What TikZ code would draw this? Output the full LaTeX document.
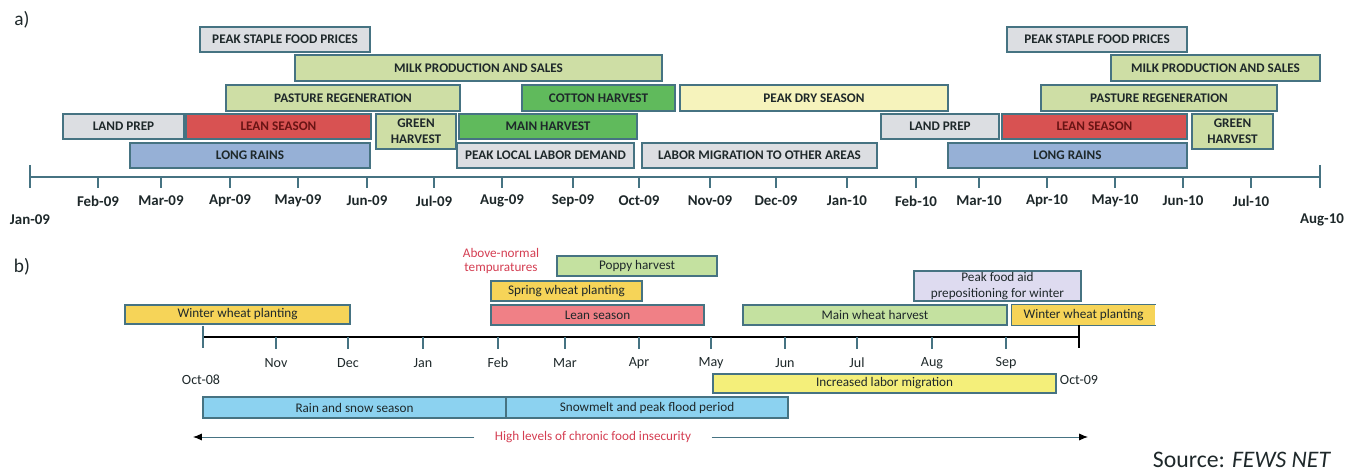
\documentclass[tikz,border=0pt]{standalone}
\usepackage{fontspec}
\setmainfont{Carlito}
\usetikzlibrary{arrows.meta}

\definecolor{rim}{RGB}{70,115,130}
\definecolor{ink}{RGB}{30,40,42}
\definecolor{greyfill}{RGB}{220,222,226}
\definecolor{sagefill}{RGB}{206,222,165}
\definecolor{greenfill}{RGB}{96,186,92}
\definecolor{redfill}{RGB}{216,82,82}
\definecolor{leanink}{RGB}{105,20,20}
\definecolor{bluefill}{RGB}{150,176,214}
\definecolor{creamfill}{RGB}{246,243,188}
\definecolor{goldfill}{RGB}{246,212,88}
\definecolor{pinkfill}{RGB}{240,128,134}
\definecolor{leaffill}{RGB}{196,225,160}
\definecolor{skyfill}{RGB}{140,210,240}
\definecolor{lilacfill}{RGB}{222,219,240}
\definecolor{lemonfill}{RGB}{244,239,122}
\definecolor{warmred}{RGB}{212,62,82}

\begin{document}
\begin{tikzpicture}[x=0.02cm,y=-0.02cm,
  every node/.style={font=\fontsize{7.5}{9}\selectfont,text=ink},
  wh/.style 2 args={minimum width=#1*0.02cm,minimum height=#2*0.02cm},
  bar/.style={draw=rim,line width=0.6pt,inner sep=0pt,align=center},
  capsbar/.style={bar,line width=0.9pt,font=\fontsize{7.5}{9}\selectfont\bfseries},
  greybar/.style={capsbar,fill=greyfill},
  sagebar/.style={capsbar,fill=sagefill},
  greenbar/.style={capsbar,fill=greenfill},
  redbar/.style={capsbar,fill=redfill,text=leanink},
  bluebar/.style={capsbar,fill=bluefill},
  creambar/.style={capsbar,fill=creamfill},
  axisline/.style={draw=rim,line width=1.1pt},
  tick/.style={draw=rim,line width=0.6pt},
  boldmonth/.style={font=\fontsize{8.5}{10}\selectfont\bfseries},
  month/.style={font=\fontsize{8}{10}\selectfont},
  panel/.style={font=\fontsize{11}{13}\selectfont}]

\path[use as bounding box] (0,0) rectangle (1355,472);

%% a) calendar, Jan-09 to Aug-10
\node[panel] (pa) at (22,20) {a)};

\node[greybar,wh={170}{25}] (pricesA) at (285,39.5) {PEAK STAPLE FOOD PRICES};
\node[sagebar,wh={367}{26}] (milkA) at (478.5,68) {MILK PRODUCTION AND SALES};
\node[sagebar,wh={234}{26}] (pastureA) at (343,98) {PASTURE REGENERATION};
\node[greenbar,wh={153}{26}] (cotton) at (598.5,98) {COTTON HARVEST};
\node[creambar,wh={268}{26}] (dry) at (814,98) {PEAK DRY SEASON};
\node[greybar,wh={121}{25}] (landA) at (123.5,126.5) {LAND PREP};
\node[redbar,wh={185}{25}] (leanA) at (278.5,126.5) {LEAN SEASON};
\node[sagebar,wh={80}{35}] (greenA) at (416,131.5) {GREEN\\HARVEST};
\node[greenbar,wh={178}{25}] (mainharv) at (548,126.5) {MAIN HARVEST};
\node[bluebar,wh={240}{25}] (rainsA) at (250,155.5) {LONG RAINS};
\node[greybar,wh={177}{25}] (labdemand) at (545.5,155.5) {PEAK LOCAL LABOR DEMAND};
\node[greybar,wh={235}{25}] (migration) at (759.5,155.5) {LABOR MIGRATION TO OTHER AREAS};
\node[greybar,wh={118}{25}] (landB) at (940,126.5) {LAND PREP};
\node[greybar,wh={180}{25}] (pricesB) at (1097,39.5) {PEAK STAPLE FOOD PRICES};
\node[sagebar,wh={209}{26}] (milkB) at (1215.5,68) {MILK PRODUCTION AND SALES};
\node[sagebar,wh={236}{26}] (pastureB) at (1159,98) {PASTURE REGENERATION};
\node[redbar,wh={185}{25}] (leanB) at (1094.5,126.5) {LEAN SEASON};
\node[sagebar,wh={81}{35}] (greenB) at (1232.5,131.5) {GREEN\\HARVEST};
\node[bluebar,wh={239}{25}] (rainsB) at (1067.5,155.5) {LONG RAINS};

\draw[axisline] (30,177) -- (1320,177);
\draw[tick] (30,165) -- (30,188);
\draw[tick] (1320,165) -- (1320,188);
\foreach \x/\m in {98/Feb-09,161/Mar-09,230/Apr-09,298/May-09,367/Jun-09,
    434/Jul-09,502/Aug-09,573/Sep-09,639/Oct-09,710/Nov-09,776/Dec-09,
    847/Jan-10,916/Feb-10,979/Mar-10,1047/Apr-10,1115/May-10,1183/Jun-10,
    1251/Jul-10} {
  \draw[tick] (\x,177) -- (\x,188);
  \node[boldmonth] (ma\x) at (\x,201) {\m};
}
\node[boldmonth] (jan09) at (30,220) {Jan-09};
\node[boldmonth] (aug10) at (1322,220) {Aug-10};

%% b) calendar, Oct-08 to Oct-09
\node[panel] (pb) at (22,267) {b)};

\node[text=warmred,align=center,font=\fontsize{7.5}{8.5}\selectfont] (warm) at (501,261)
  {Above-normal\\tempuratures};
\node[bar,fill=leaffill,wh={160}{20}] (poppy) at (637,266) {Poppy harvest};
\node[bar,fill=lilacfill,wh={167}{30},font=\fontsize{7.5}{9.6}\selectfont] (foodaid) at (997.5,286)
  {Peak food aid\\prepositioning for winter};
\node[bar,fill=goldfill,wh={151}{20}] (spring) at (566.5,291) {Spring wheat planting};
\node[bar,fill=goldfill,wh={225}{19}] (wwA) at (237.5,314.5) {Winter wheat planting};
\node[bar,fill=pinkfill,wh={213}{20}] (leanb) at (597.5,315) {Lean season};
\node[bar,fill=leaffill,wh={264}{20}] (mainwheat) at (875,315) {Main wheat harvest};
\node[bar,draw=none,fill=goldfill,wh={143}{20}] (wwB) at (1083.5,315) {Winter wheat planting};
\draw[rim,line width=0.6pt] (wwB.north east) -- (wwB.north west)
  -- (wwB.south west) -- (wwB.south east);

\draw[black,line width=1.4pt] (203,337) -- (1079,337);
\draw[tick] (203,326) -- (203,348);
\draw[black,line width=0.8pt] (1079,325) -- (1079,348);
\foreach \x/\m in {276/Nov,348/Dec,423/Jan,498/Feb,565/Mar,639/Apr,
    711/May,785/Jun,857/Jul,932/Aug,1006/Sep} {
  \draw[tick] (\x,337) -- (\x,349);
  \node[month] (mb\x) at (\x,363) {\m};
}
\node[month] (oct08) at (201,380) {Oct-08};
\node[month] (oct09) at (1079,380) {Oct-09};

\node[bar,fill=lemonfill,wh={343}{19}] (labor) at (884.5,383.5) {Increased labor migration};
\node[bar,fill=skyfill,wh={303}{21}] (rainsnow) at (354.5,407.5) {Rain and snow season};
\node[bar,fill=skyfill,wh={282}{21}] (snowmelt) at (647,407.5) {Snowmelt and peak flood period};

\coordinate (arrL) at (193,437);
\coordinate (arrR) at (1088,437);
\node[text=warmred,inner xsep=0.4cm] (insec) at (593,437) {High levels of chronic food insecurity};
\draw[rim,line width=0.5pt,-{Latex[length=5pt,width=4pt,color=black]}] (insec) -- (arrL);
\draw[rim,line width=0.5pt,-{Latex[length=5pt,width=4pt,color=black]}] (insec) -- (arrR);

\node[font=\fontsize{13.5}{16}\selectfont] (source) at (1242,460) {Source: \textit{FEWS NET}};
\end{tikzpicture}
\end{document}
